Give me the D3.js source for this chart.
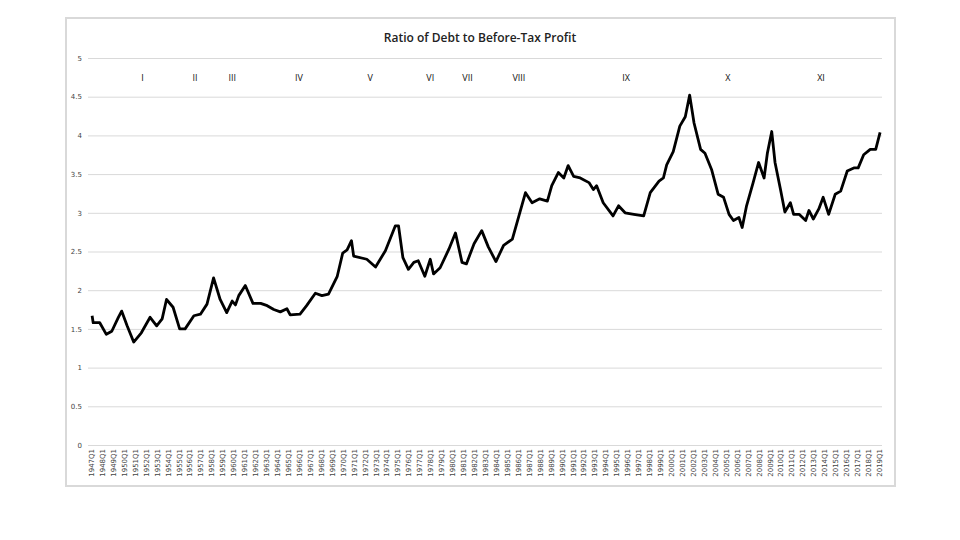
<!DOCTYPE html>
<html><head><meta charset="utf-8">
<script src="https://cdn.jsdelivr.net/npm/d3@7"></script>
<style>body{margin:0;background:#fff;}</style></head>
<body><svg id="c" width="960" height="540"></svg>
<script>
const years = [1947.1,1947.2,1947.8,1948.4,1948.9,1949.5,1949.8,1950.3,1950.9,1951.6,1952.4,1953.0,1953.5,1953.9,1954.5,1955.1,1955.6,1956.4,1957.0,1957.6,1958.2,1958.8,1959.4,1959.9,1960.2,1960.5,1961.1,1961.8,1962.5,1963.1,1963.7,1964.3,1964.9,1965.2,1966.1,1966.7,1967.5,1968.1,1968.7,1969.5,1970.0,1970.4,1970.8,1971.0,1972.2,1973.0,1973.9,1974.8,1975.1,1975.5,1976.0,1976.5,1976.9,1977.5,1978.0,1978.3,1978.9,1979.7,1980.3,1980.9,1981.3,1982.0,1982.7,1983.3,1984.0,1984.7,1985.5,1986.1,1986.7,1987.3,1988.0,1988.7,1989.1,1989.7,1990.2,1990.6,1991.1,1991.7,1992.5,1992.9,1993.2,1993.8,1994.7,1995.2,1995.8,1996.6,1997.5,1998.1,1998.9,1999.3,1999.6,2000.2,2000.8,2001.3,2001.7,2002.1,2002.7,2003.1,2003.7,2004.3,2004.8,2005.3,2005.7,2006.2,2006.5,2006.9,2007.5,2008.0,2008.5,2008.8,2009.2,2009.5,2010.0,2010.4,2010.9,2011.2,2011.7,2012.3,2012.6,2013.0,2013.5,2013.9,2014.4,2015.0,2015.5,2016.1,2016.7,2017.1,2017.6,2018.2,2018.7,2019.1];
const ratios = [1.67,1.58,1.58,1.43,1.47,1.65,1.73,1.54,1.33,1.45,1.65,1.54,1.63,1.88,1.78,1.50,1.50,1.67,1.69,1.82,2.16,1.88,1.71,1.86,1.81,1.93,2.06,1.83,1.83,1.80,1.75,1.72,1.76,1.68,1.69,1.80,1.96,1.93,1.95,2.18,2.48,2.52,2.64,2.44,2.40,2.30,2.51,2.83,2.83,2.42,2.27,2.36,2.38,2.18,2.40,2.21,2.29,2.53,2.74,2.36,2.34,2.60,2.77,2.56,2.37,2.58,2.66,2.96,3.26,3.13,3.18,3.15,3.35,3.52,3.45,3.61,3.47,3.45,3.39,3.30,3.35,3.13,2.96,3.09,3.00,2.98,2.96,3.26,3.41,3.45,3.62,3.79,4.12,4.24,4.52,4.16,3.82,3.77,3.56,3.24,3.20,2.98,2.90,2.94,2.81,3.09,3.39,3.65,3.45,3.77,4.05,3.65,3.30,3.01,3.13,2.98,2.98,2.90,3.03,2.92,3.05,3.20,2.98,3.24,3.28,3.54,3.58,3.58,3.75,3.82,3.82,4.04];
const yTicks = [0,0.5,1,1.5,2,2.5,3,3.5,4,4.5,5];
const tickYears = d3.range(1947, 2020);
const romanLabels = ["I","II","III","IV","V","VI","VII","VIII","IX","X","XI"];
const romanYears = [1951.7,1956.5,1959.9,1966.0,1972.5,1978.0,1981.4,1986.1,1995.9,2005.2,2013.7];

const svg = d3.select("#c");
svg.append("rect").attr("x",66).attr("y",18).attr("width",829).attr("height",468)
  .attr("fill","#fff").attr("stroke","#d9d9d9").attr("stroke-width",2);
const x = d3.scaleLinear().domain([1947,2019]).range([91,879]);
const y = d3.scaleLinear().domain([0,5]).range([445,58]);

svg.append("text").attr("x",480).attr("y",42).attr("text-anchor","middle")
  .attr("font-family","Open Sans, sans-serif").attr("font-size",12).attr("font-weight",600).attr("fill","#222")
  .text("Ratio of Debt to Before-Tax Profit");

const gy = svg.append("g").attr("transform","translate(88,0)")
  .call(d3.axisLeft(y).tickValues(yTicks).tickSize(-794).tickFormat(d3.format("")));
gy.select(".domain").remove();
gy.selectAll("line").attr("stroke","#d9d9d9");
gy.selectAll("text").attr("font-family","DejaVu Sans, sans-serif").attr("font-size",7).attr("fill","#444").attr("x",-6);

const gx = svg.append("g").attr("transform","translate(0,445)")
  .call(d3.axisBottom(x).tickValues(tickYears).tickSize(0).tickFormat(d=>d+"Q1"));
gx.select(".domain").remove();
gx.selectAll("text").attr("font-family","DejaVu Sans, sans-serif").attr("font-size",7).attr("fill","#444")
  .attr("text-anchor","end").attr("transform","rotate(-90)").attr("x",-4).attr("y",0).attr("dy","0.35em");

svg.append("g").selectAll("text").data(romanLabels).join("text")
  .attr("x",(d,i)=>x(romanYears[i])).attr("y",81).attr("text-anchor","middle")
  .attr("font-family","Open Sans, sans-serif").attr("font-size",9).attr("fill","#111").text(d=>d);

const line = d3.line().x((d,i)=>x(years[i])).y(d=>y(d));
svg.append("path").datum(ratios).attr("d",line).attr("fill","none")
  .attr("stroke","#000").attr("stroke-width",2.8).attr("stroke-linejoin","round");
</script></body></html>
